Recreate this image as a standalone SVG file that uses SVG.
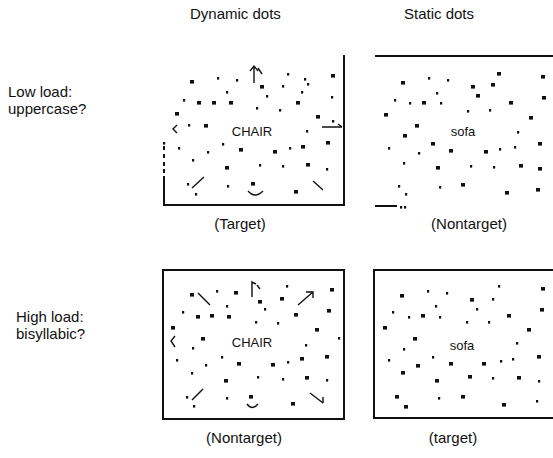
<svg xmlns="http://www.w3.org/2000/svg" width="553" height="458" viewBox="0 0 553 458">
  <style>
    text { font-family: "Liberation Sans", Arial, sans-serif; fill: #111; }
    .hdr { font-size: 15px; }
    .lbl { font-size: 15px; }
    .cap { font-size: 15px; text-anchor: middle; }
    .word { font-size: 13px; text-anchor: middle; }
    .frame { fill: none; stroke: #111; stroke-width: 2; }
    .s { fill: #111; }
    .b { fill: #111; }
    .mv { fill: none; stroke: #111; stroke-width: 1.4; }
  </style>
  <defs>
    <rect id="s" x="-1" y="-1" width="2.2" height="2.6" class="s"/>
    <rect id="b" x="-2" y="-2" width="4" height="3.6" class="b"/>
  </defs>
  <rect width="553" height="458" fill="#fff"/>

  <!-- column and row headings -->
  <g id="headings">
    <text class="hdr" x="190" y="19">Dynamic dots</text>
    <text class="hdr" x="404" y="19">Static dots</text>
    <text class="lbl" x="8" y="97">Low load:</text>
    <text class="lbl" x="8" y="114">uppercase?</text>
    <text class="lbl" x="16" y="322">High load:</text>
    <text class="lbl" x="16" y="339">bisyllabic?</text>
  </g>

  <!-- low load, dynamic dots -->
  <g id="panel-low-dynamic">
    <path class="frame" d="M164 176 V205 H344 V55"/>
    <path class="frame" d="M164 146 v4 M164 154 v4 M164 162 v4 M164 169 v4" stroke-width="1.6"/>
    <text class="word" x="252" y="136">CHAIR</text>
    <path class="mv" d="M254 83 V66 M250 71 L254 66 L258 71 M258 68 L262 74"/>
    <path class="mv" d="M322 127 H342 M338 124 L342 127"/>
    <path class="mv" d="M177 125 L173 129 L177 133"/>
    <path class="mv" d="M192 188 L204 177"/>
    <path class="mv" d="M248 191 Q255 199 263 191"/>
    <path class="mv" d="M313 181 L323 190"/>
    <g>
      <use href="#b" x="192" y="82"/><use href="#s" x="218" y="78"/><use href="#s" x="237" y="80"/>
      <use href="#s" x="288" y="74"/><use href="#s" x="305" y="79"/><use href="#s" x="308" y="84"/>
      <use href="#b" x="333" y="76"/><use href="#b" x="262" y="87"/><use href="#s" x="283" y="86"/>
      <use href="#s" x="227" y="92"/><use href="#s" x="267" y="96"/><use href="#s" x="302" y="92"/>
      <use href="#s" x="332" y="97"/><use href="#s" x="184" y="100"/><use href="#b" x="199" y="103"/>
      <use href="#b" x="214" y="103"/><use href="#b" x="231" y="103"/><use href="#s" x="257" y="108"/>
      <use href="#s" x="280" y="110"/><use href="#b" x="298" y="103"/><use href="#b" x="177" y="114"/>
      <use href="#b" x="318" y="117"/><use href="#s" x="333" y="121"/><use href="#s" x="189" y="125"/>
      <use href="#b" x="206" y="126"/><use href="#s" x="307" y="131"/><use href="#s" x="164" y="143"/>
      <use href="#s" x="179" y="148"/><use href="#s" x="223" y="144"/><use href="#b" x="241" y="150"/>
      <use href="#s" x="208" y="152"/><use href="#b" x="275" y="152"/><use href="#s" x="290" y="148"/>
      <use href="#b" x="303" y="147"/><use href="#b" x="328" y="143"/><use href="#s" x="193" y="160"/>
      <use href="#s" x="260" y="165"/><use href="#b" x="227" y="168"/><use href="#s" x="283" y="166"/>
      <use href="#b" x="308" y="165"/><use href="#s" x="327" y="169"/><use href="#s" x="188" y="184"/>
      <use href="#s" x="196" y="194"/><use href="#s" x="228" y="186"/><use href="#b" x="253" y="184"/>
      <use href="#b" x="296" y="192"/>
    </g>
    <text class="cap" x="240" y="229">(Target)</text>
  </g>

  <!-- low load, static dots -->
  <g id="panel-low-static">
    <path class="frame" d="M375 56 H553"/>
    <path class="frame" d="M375 206 H397" stroke-width="1.6"/>
    <text class="word" x="463" y="136">sofa</text>
    <g>
      <use href="#b" x="403" y="83"/><use href="#s" x="429" y="78"/><use href="#s" x="448" y="80"/>
      <use href="#b" x="499" y="74"/><use href="#b" x="543" y="77"/><use href="#b" x="473" y="87"/>
      <use href="#b" x="493" y="85"/><use href="#s" x="437" y="93"/><use href="#b" x="478" y="96"/>
      <use href="#b" x="544" y="98"/><use href="#s" x="395" y="100"/><use href="#s" x="410" y="103"/>
      <use href="#b" x="424" y="103"/><use href="#s" x="441" y="103"/><use href="#b" x="511" y="103"/>
      <use href="#s" x="468" y="111"/><use href="#s" x="490" y="110"/><use href="#b" x="386" y="115"/>
      <use href="#b" x="531" y="118"/><use href="#b" x="417" y="126"/><use href="#s" x="518" y="132"/>
      <use href="#b" x="405" y="136"/><use href="#s" x="389" y="148"/><use href="#b" x="433" y="144"/>
      <use href="#s" x="419" y="153"/><use href="#b" x="451" y="151"/><use href="#b" x="486" y="152"/>
      <use href="#s" x="500" y="149"/><use href="#s" x="515" y="147"/><use href="#b" x="540" y="144"/>
      <use href="#s" x="404" y="163"/><use href="#b" x="438" y="168"/><use href="#s" x="471" y="166"/>
      <use href="#s" x="494" y="167"/><use href="#b" x="521" y="166"/><use href="#b" x="540" y="169"/>
      <use href="#s" x="399" y="186"/><use href="#s" x="406" y="194"/><use href="#s" x="440" y="187"/>
      <use href="#b" x="463" y="185"/><use href="#b" x="507" y="193"/><use href="#b" x="538" y="190"/>
      <use href="#s" x="401" y="207"/><use href="#s" x="405" y="207"/>
    </g>
    <text class="cap" x="469" y="229">(Nontarget)</text>
  </g>

  <!-- high load, dynamic dots -->
  <g id="panel-high-dynamic">
    <rect class="frame" x="163" y="270" width="181" height="149"/>
    <text class="word" x="252" y="347">CHAIR</text>
    <path class="mv" d="M210 305 L198 293"/>
    <path class="mv" d="M252 297 V282 L256 284 M257 285 L260 289"/>
    <path class="mv" d="M298 305 L313 292 M306 292 H313 V298"/>
    <path class="mv" d="M175 336 L171 341 L175 347"/>
    <path class="mv" d="M192 400 L203 389"/>
    <path class="mv" d="M247 404 Q252 411 258 404"/>
    <path class="mv" d="M310 393 L323 403 M323 397 V403"/>
    <g>
      <use href="#b" x="192" y="295"/><use href="#s" x="217" y="291"/><use href="#b" x="236" y="293"/>
      <use href="#b" x="260" y="302"/><use href="#s" x="287" y="286"/><use href="#b" x="282" y="299"/>
      <use href="#b" x="332" y="290"/><use href="#s" x="183" y="312"/><use href="#b" x="198" y="317"/>
      <use href="#b" x="212" y="316"/><use href="#b" x="229" y="317"/><use href="#s" x="227" y="306"/>
      <use href="#s" x="265" y="309"/><use href="#b" x="296" y="315"/><use href="#b" x="329" y="311"/>
      <use href="#s" x="256" y="322"/><use href="#s" x="278" y="323"/><use href="#b" x="173" y="328"/>
      <use href="#b" x="317" y="330"/><use href="#b" x="203" y="339"/><use href="#s" x="306" y="345"/>
      <use href="#s" x="339" y="338"/><use href="#s" x="193" y="348"/><use href="#s" x="177" y="360"/>
      <use href="#s" x="222" y="357"/><use href="#s" x="206" y="365"/><use href="#b" x="239" y="364"/>
      <use href="#b" x="273" y="365"/><use href="#s" x="288" y="362"/><use href="#b" x="302" y="359"/>
      <use href="#b" x="327" y="357"/><use href="#s" x="192" y="373"/><use href="#b" x="226" y="381"/>
      <use href="#s" x="258" y="377"/><use href="#s" x="283" y="379"/><use href="#b" x="307" y="378"/>
      <use href="#s" x="327" y="380"/><use href="#s" x="187" y="397"/><use href="#s" x="194" y="406"/>
      <use href="#s" x="227" y="398"/><use href="#b" x="251" y="397"/><use href="#b" x="293" y="404"/>
    </g>
    <text class="cap" x="244" y="443">(Nontarget)</text>
  </g>

  <!-- high load, static dots -->
  <g id="panel-high-static">
    <path class="frame" d="M553 270 H374 V418 H553"/>
    <text class="word" x="462" y="350">sofa</text>
    <g>
      <use href="#b" x="402" y="296"/><use href="#s" x="428" y="291"/><use href="#s" x="447" y="293"/>
      <use href="#s" x="499" y="286"/><use href="#b" x="543" y="289"/><use href="#b" x="472" y="300"/>
      <use href="#s" x="493" y="299"/><use href="#s" x="436" y="306"/><use href="#s" x="477" y="309"/>
      <use href="#s" x="393" y="312"/><use href="#s" x="409" y="317"/><use href="#b" x="423" y="316"/>
      <use href="#s" x="440" y="317"/><use href="#s" x="467" y="322"/><use href="#s" x="489" y="322"/>
      <use href="#b" x="509" y="316"/><use href="#b" x="542" y="310"/><use href="#b" x="385" y="328"/>
      <use href="#b" x="529" y="330"/><use href="#b" x="415" y="339"/><use href="#s" x="517" y="343"/>
      <use href="#s" x="404" y="349"/><use href="#s" x="389" y="360"/><use href="#s" x="433" y="357"/>
      <use href="#b" x="418" y="366"/><use href="#b" x="451" y="364"/><use href="#b" x="484" y="364"/>
      <use href="#s" x="501" y="361"/><use href="#s" x="513" y="359"/><use href="#b" x="539" y="357"/>
      <use href="#b" x="403" y="373"/><use href="#b" x="437" y="381"/><use href="#b" x="470" y="377"/>
      <use href="#s" x="493" y="378"/><use href="#b" x="519" y="378"/><use href="#s" x="539" y="381"/>
      <use href="#b" x="397" y="397"/><use href="#b" x="406" y="407"/><use href="#s" x="439" y="398"/>
      <use href="#b" x="463" y="397"/><use href="#b" x="504" y="405"/><use href="#s" x="537" y="401"/>
    </g>
    <text class="cap" x="453" y="443">(target)</text>
  </g>
</svg>
